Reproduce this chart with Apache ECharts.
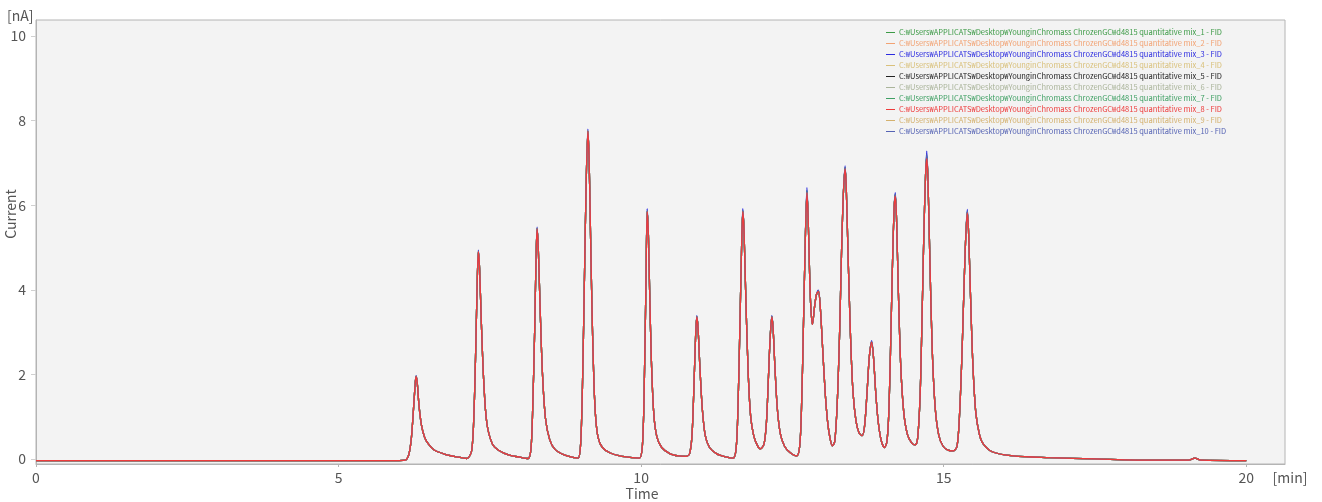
<!DOCTYPE html>
<html>
<head>
<meta charset="utf-8">
<script src="https://cdn.jsdelivr.net/npm/echarts@6/dist/echarts.min.js"></script>
<style>
  html, body { margin: 0; padding: 0; background: #fff; }
  #main { width: 1322px; height: 502px; }
</style>
</head>
<body>
<div id="main"></div>
<script>
// retention time [min] / detector current [nA]
var times = [
  0.00, 6.00, 6.10, 6.16, 6.20, 6.23, 6.26, 6.28, 6.30, 6.33, 6.37, 6.42, 6.48, 6.58, 6.76, 6.95,
  7.12, 7.20, 7.24, 7.27, 7.29, 7.31, 7.33, 7.36, 7.40, 7.45, 7.54, 7.65, 7.82, 8.00,
  8.13, 8.18, 8.21, 8.24, 8.26, 8.28, 8.30, 8.33, 8.37, 8.42, 8.49, 8.58, 8.74, 8.90,
  8.96, 9.00, 9.03, 9.06, 9.09, 9.12, 9.14, 9.16, 9.19, 9.22, 9.25, 9.29, 9.36, 9.49, 9.65, 9.85,
  9.97, 10.02, 10.05, 10.08, 10.10, 10.12, 10.14, 10.17, 10.21, 10.26, 10.34, 10.48, 10.62, 10.74,
  10.80, 10.84, 10.87, 10.90, 10.92, 10.94, 10.97, 11.01, 11.06, 11.13, 11.25, 11.40, 11.52,
  11.57, 11.60, 11.63, 11.66, 11.68, 11.70, 11.73, 11.77, 11.81, 11.86, 11.92, 11.97,
  12.03, 12.07, 12.10, 12.13, 12.16, 12.18, 12.21, 12.25, 12.30, 12.37, 12.46, 12.57,
  12.62, 12.65, 12.68, 12.71, 12.74, 12.76, 12.78, 12.80, 12.83,
  12.87, 12.90, 12.93, 12.96, 13.00, 13.04, 13.08, 13.12, 13.16,
  13.20, 13.24, 13.28, 13.31, 13.34, 13.37, 13.39, 13.42, 13.46, 13.50, 13.55, 13.60, 13.65,
  13.69, 13.73, 13.77, 13.81, 13.84, 13.88, 13.92, 13.97, 14.02,
  14.06, 14.09, 14.12, 14.15, 14.18, 14.20, 14.22, 14.25, 14.29, 14.34, 14.40, 14.47, 14.53,
  14.57, 14.61, 14.64, 14.67, 14.70, 14.72, 14.74, 14.77, 14.81, 14.86, 14.92, 14.99, 15.07, 15.16,
  15.22, 15.26, 15.30, 15.33, 15.36, 15.39, 15.41, 15.44, 15.48, 15.53, 15.59, 15.65, 15.80,
  16.15, 16.75, 17.50, 18.50, 19.05, 19.15, 19.25, 20.00
];
var current = [
  -0.04, -0.04, -0.03, 0.10, 0.45, 1.00, 1.65, 1.95, 1.80, 1.25, 0.80, 0.52, 0.36, 0.21, 0.11, 0.05,
  0.01, 0.20, 1.20, 2.80, 4.10, 4.90, 4.50, 3.20, 1.80, 0.85, 0.36, 0.20, 0.09, 0.04,
  0.01, 0.25, 1.30, 3.00, 4.50, 5.44, 5.00, 3.60, 2.00, 0.95, 0.45, 0.22, 0.09, 0.03,
  0.02, 0.35, 1.70, 4.00, 6.40, 7.75, 7.10, 5.60, 3.40, 1.80, 0.95, 0.50, 0.27, 0.14, 0.07, 0.03,
  0.02, 0.30, 1.60, 4.20, 5.85, 5.30, 4.00, 2.30, 1.05, 0.52, 0.27, 0.12, 0.07, 0.06,
  0.12, 0.55, 1.60, 2.90, 3.36, 3.10, 2.20, 1.20, 0.55, 0.27, 0.12, 0.05, 0.02,
  0.25, 1.20, 3.00, 5.00, 5.85, 5.40, 3.80, 2.00, 1.00, 0.55, 0.32, 0.24,
  0.35, 0.85, 1.80, 2.80, 3.36, 3.10, 2.20, 1.20, 0.60, 0.30, 0.15, 0.07,
  0.30, 1.20, 3.00, 5.00, 6.30, 5.70, 4.60, 3.70, 3.18,
  3.65, 3.90, 3.96, 3.60, 2.60, 1.60, 0.90, 0.50, 0.31,
  0.42, 1.30, 3.00, 4.80, 6.20, 6.86, 6.40, 4.80, 2.90, 1.60, 0.90, 0.62, 0.55,
  0.75, 1.50, 2.40, 2.76, 2.40, 1.50, 0.85, 0.42, 0.27,
  0.40, 1.00, 2.50, 4.40, 5.90, 6.22, 5.70, 4.00, 2.20, 1.10, 0.58, 0.38, 0.33,
  0.50, 1.50, 3.20, 5.20, 6.70, 7.10, 6.60, 4.80, 2.60, 1.20, 0.55, 0.30, 0.21, 0.19,
  0.30, 1.00, 2.40, 3.80, 5.10, 5.82, 5.40, 4.00, 2.30, 1.10, 0.58, 0.36, 0.17,
  0.07, 0.03, 0.00, -0.03, -0.03, 0.02, -0.03, -0.04
];

// peak tops differ slightly between the ten injections
var apexTimes = [6.28, 7.31, 8.28, 9.12, 10.10, 10.92, 11.68, 12.16, 12.74, 12.93, 13.37, 13.81, 14.20, 14.72, 15.39];
var run1Apex  = [1.95, 4.90, 5.45, 7.74, 5.86, 3.36, 5.86, 3.37, 6.33, 3.96, 6.88, 2.77, 6.24, 7.15, 5.84];
var run2Apex  = [1.95, 4.89, 5.44, 7.75, 5.85, 3.36, 5.85, 3.36, 6.31, 3.96, 6.86, 2.76, 6.22, 7.12, 5.83];
var run3Apex  = [1.97, 4.94, 5.48, 7.80, 5.92, 3.39, 5.92, 3.39, 6.42, 3.99, 6.93, 2.80, 6.30, 7.28, 5.90];
var run4Apex  = [1.95, 4.90, 5.44, 7.76, 5.85, 3.36, 5.85, 3.36, 6.30, 3.96, 6.86, 2.76, 6.22, 7.10, 5.82];
var run5Apex  = [1.95, 4.88, 5.42, 7.72, 5.84, 3.35, 5.84, 3.35, 6.28, 3.95, 6.84, 2.75, 6.20, 7.05, 5.80];
var run6Apex  = [1.95, 4.90, 5.44, 7.75, 5.85, 3.36, 5.85, 3.36, 6.30, 3.96, 6.86, 2.76, 6.22, 7.10, 5.82];
var run7Apex  = [1.96, 4.91, 5.45, 7.76, 5.87, 3.37, 5.87, 3.37, 6.34, 3.97, 6.88, 2.77, 6.25, 7.16, 5.85];
var run8Apex  = [1.95, 4.90, 5.44, 7.75, 5.85, 3.36, 5.85, 3.36, 6.30, 3.96, 6.86, 2.76, 6.22, 7.10, 5.82];
var run9Apex  = [1.95, 4.90, 5.44, 7.74, 5.85, 3.36, 5.85, 3.36, 6.30, 3.96, 6.86, 2.76, 6.22, 7.10, 5.82];
var run10Apex = [1.96, 4.92, 5.46, 7.76, 5.88, 3.37, 5.88, 3.37, 6.36, 3.97, 6.90, 2.78, 6.26, 7.20, 5.86];

var runNames = [
  'C:₩Users₩APPLICATS₩Desktop₩YounginChromass ChrozenGC₩d4815 quantitative mix_1 - FID',
  'C:₩Users₩APPLICATS₩Desktop₩YounginChromass ChrozenGC₩d4815 quantitative mix_2 - FID',
  'C:₩Users₩APPLICATS₩Desktop₩YounginChromass ChrozenGC₩d4815 quantitative mix_3 - FID',
  'C:₩Users₩APPLICATS₩Desktop₩YounginChromass ChrozenGC₩d4815 quantitative mix_4 - FID',
  'C:₩Users₩APPLICATS₩Desktop₩YounginChromass ChrozenGC₩d4815 quantitative mix_5 - FID',
  'C:₩Users₩APPLICATS₩Desktop₩YounginChromass ChrozenGC₩d4815 quantitative mix_6 - FID',
  'C:₩Users₩APPLICATS₩Desktop₩YounginChromass ChrozenGC₩d4815 quantitative mix_7 - FID',
  'C:₩Users₩APPLICATS₩Desktop₩YounginChromass ChrozenGC₩d4815 quantitative mix_8 - FID',
  'C:₩Users₩APPLICATS₩Desktop₩YounginChromass ChrozenGC₩d4815 quantitative mix_9 - FID',
  'C:₩Users₩APPLICATS₩Desktop₩YounginChromass ChrozenGC₩d4815 quantitative mix_10 - FID'
];
var runColors = ['#3c9a46', '#f2a272', '#2b2be0', '#d9c07a', '#222222', '#aab49a', '#3fa064', '#ee3b3b', '#d4b16e', '#5563b4'];
var runApex = [run1Apex, run2Apex, run3Apex, run4Apex, run5Apex, run6Apex, run7Apex, run8Apex, run9Apex, run10Apex];

var xTicks = [0, 5, 10, 15, 20];
var yTicks = [0, 2, 4, 6, 8, 10];

var FONT = '"Noto Sans CJK KR", "Noto Sans", sans-serif';

function buildRun(apex) {
  var out = [];
  for (var i = 0; i < times.length; i++) {
    var k = apexTimes.indexOf(times[i]);
    out.push([times[i], k >= 0 ? apex[k] : current[i]]);
  }
  return out;
}

var chart = echarts.init(document.getElementById('main'), null, { renderer: 'canvas' });

var series = [];
var legendData = [];
for (var r = 0; r < runNames.length; r++) {
  series.push({
    name: runNames[r],
    type: 'line',
    data: buildRun(runApex[r]),
    symbol: 'none',
    smooth: 0.3,
    z: r == 7 ? 4 : 2, // red run sits on top like in the instrument software
    lineStyle: { color: runColors[r], width: 1.3 },
    itemStyle: { color: runColors[r] }
  });
  legendData.push({ name: runNames[r], icon: 'rect', textStyle: { color: runColors[r] } });
}

var option = {
  animation: false,
  backgroundColor: '#ffffff',
  textStyle: { fontFamily: FONT },
  grid: {
    left: 36,
    top: 20,
    right: 37,
    bottom: 38,
    show: true,
    backgroundColor: '#f3f3f3',
    borderColor: '#b4b4b4',
    borderWidth: 1
  },
  legend: {
    data: legendData,
    orient: 'vertical',
    left: 886,
    top: 28,
    itemWidth: 9,
    itemHeight: 1,
    itemGap: 2,
    padding: 0,
    textStyle: { fontSize: 7.5, lineHeight: 9, fontFamily: FONT, padding: [0, 0, 0, -1] }
  },
  xAxis: {
    type: 'value',
    min: 0,
    max: 20.64,
    axisLine: { show: true, onZero: false, lineStyle: { color: '#b4b4b4' } },
    axisTick: { show: true, length: 3, customValues: xTicks, lineStyle: { color: '#b4b4b4' } },
    axisLabel: { customValues: xTicks, margin: 7, fontSize: 14, color: '#555555', fontFamily: FONT },
    splitLine: { show: false }
  },
  yAxis: {
    type: 'value',
    min: -0.12,
    max: 10.38,
    axisLine: { show: true, onZero: false, lineStyle: { color: '#b4b4b4' } },
    axisTick: { show: true, length: 5, customValues: yTicks, lineStyle: { color: '#d0d0d0' } },
    axisLabel: { customValues: yTicks, margin: 10, fontSize: 14, color: '#555555', fontFamily: FONT },
    splitLine: { show: false }
  },
  graphic: [
    { type: 'text', left: 7, top: 9, style: { text: '[nA]', fontSize: 14, fill: '#555555', fontFamily: FONT } },
    { type: 'text', x: 11, y: 214, rotation: Math.PI / 2,
      style: { text: 'Current', fontSize: 14, fill: '#555555', fontFamily: FONT, align: 'center', verticalAlign: 'middle' } },
    { type: 'text', x: 642, y: 494,
      style: { text: 'Time', fontSize: 14, fill: '#555555', fontFamily: FONT, align: 'center', verticalAlign: 'middle' } },
    { type: 'text', x: 1290, y: 478,
      style: { text: '[min]', fontSize: 14, fill: '#555555', fontFamily: FONT, align: 'center', verticalAlign: 'middle' } }
  ],
  series: series
};

chart.setOption(option);
</script>
</body>
</html>
